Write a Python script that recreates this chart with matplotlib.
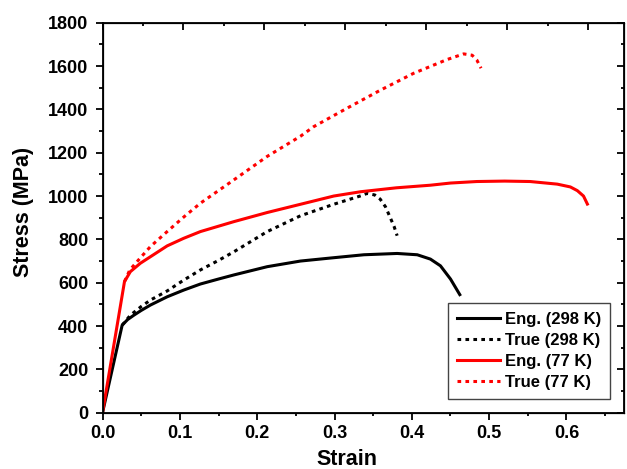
import matplotlib
matplotlib.use('Agg')
import matplotlib.pyplot as plt
from matplotlib.ticker import MultipleLocator, FormatStrFormatter

plt.rcParams['font.family'] = ['Liberation Sans', 'DejaVu Sans']
plt.rcParams['font.weight'] = 'bold'

# Engineering curve, 298 K
eng_298_strain = [0, 0.0254, 0.0325, 0.0405, 0.050, 0.062, 0.0836, 0.105, 0.1266, 0.150,
                  0.170, 0.213, 0.256, 0.295, 0.338, 0.381, 0.407, 0.424, 0.437,
                  0.450, 0.462]
eng_298_stress = [0, 404, 430, 450, 472, 497, 535, 566, 594, 617,
                  636, 674, 700, 714, 729, 735, 729, 709, 678,
                  617, 545]

# True curve, 298 K
true_298_strain = [0.0254, 0.036, 0.050, 0.062, 0.0836, 0.105, 0.1266, 0.150, 0.170,
                   0.213, 0.256, 0.299, 0.334, 0.342, 0.352, 0.359, 0.366, 0.372,
                   0.377, 0.381]
true_298_stress = [404, 450, 490, 520, 562, 612, 659, 703, 743,
                   836, 909, 962, 1001, 1012, 1005, 986, 950, 901,
                   860, 817]

# Engineering curve, 77 K
eng_77_strain = [0, 0.0284, 0.036, 0.049, 0.062, 0.0836, 0.105, 0.1266, 0.170, 0.213,
                 0.256, 0.299, 0.334, 0.380, 0.424, 0.450, 0.484, 0.520, 0.553,
                 0.588, 0.605, 0.614, 0.622, 0.627]
eng_77_stress = [0, 605, 651, 690, 720, 770, 805, 836, 882, 924,
                 962, 1000, 1020, 1038, 1050, 1060, 1067, 1069, 1067,
                 1055, 1042, 1025, 1000, 963]

# True curve, 77 K
true_77_strain = [0.0284, 0.0353, 0.049, 0.062, 0.0836, 0.105, 0.1266, 0.170, 0.213,
                  0.256, 0.273, 0.316, 0.359, 0.402, 0.4456, 0.467, 0.478, 0.484,
                  0.4895]
true_77_stress = [605, 659, 715, 767, 836, 903, 967, 1075, 1183,
                  1276, 1320, 1405, 1488, 1566, 1630, 1656, 1650, 1628,
                  1590]

fig = plt.figure(figsize=(6.27, 4.69), dpi=100)
ax = fig.add_axes([0.1635, 0.12, 0.8325, 0.8316])

dash = (0, (1.2, 1.4))
ax.plot(eng_298_strain, eng_298_stress, color='black', lw=2.2, label='Eng. (298 K)')
ax.plot(true_298_strain, true_298_stress, color='black', lw=2.2, ls=dash, label='True (298 K)')
ax.plot(eng_77_strain, eng_77_stress, color='#ff0000', lw=2.2, label='Eng. (77 K)')
ax.plot(true_77_strain, true_77_stress, color='#ff0000', lw=2.2, ls=dash, label='True (77 K)')

ax.set_xlim(0, 0.675)
ax.set_ylim(0, 1800)
ax.xaxis.set_major_locator(MultipleLocator(0.1))
ax.xaxis.set_minor_locator(MultipleLocator(0.05))
ax.yaxis.set_major_locator(MultipleLocator(200))
ax.yaxis.set_minor_locator(MultipleLocator(100))
ax.xaxis.set_major_formatter(FormatStrFormatter('%.1f'))

for s in ax.spines.values():
    s.set_linewidth(1.3)

ax.tick_params(which='both', direction='out', width=1.3, labelsize=13, pad=4)
ax.tick_params(which='major', length=5)
ax.tick_params(which='minor', length=2.5)
ax.tick_params(axis='y', which='major', length=5.2, pad=5)
ax.tick_params(axis='y', which='minor', length=2.6)

# right axis with inward ticks
ax_r = ax.twinx()
ax_r.set_ylim(ax.get_ylim())
ax_r.yaxis.set_major_locator(MultipleLocator(200))
ax_r.yaxis.set_minor_locator(MultipleLocator(100))
ax_r.tick_params(which='both', direction='in', width=1.3, labelright=False)
ax_r.tick_params(which='major', length=5)
ax_r.tick_params(which='minor', length=2.5)

# top axis with inward ticks (slightly different scale, as in the original)
ax_t = ax.twiny()
ax_t.set_xlim(0, 0.645)
ax_t.xaxis.set_major_locator(MultipleLocator(0.1))
ax_t.xaxis.set_minor_locator(MultipleLocator(0.05))
ax_t.tick_params(which='both', direction='in', width=1.3, labeltop=False)
ax_t.tick_params(which='major', length=5)
ax_t.tick_params(which='minor', length=2.5)

ax.set_xlabel('Strain', fontsize=15.5, fontweight='bold')
ax.set_ylabel('Stress (MPa)', fontsize=15.5, fontweight='bold')
ax.xaxis.set_label_coords(0.469, -0.092)
ax.yaxis.set_label_coords(-0.132, 0.516)

leg = ax.legend(loc='upper left', bbox_to_anchor=(0.661, 0.282), fontsize=12,
                frameon=True, fancybox=False, handlelength=2.6, handletextpad=0.3,
                labelspacing=0.36, borderpad=0.55, borderaxespad=0)
leg.get_frame().set_edgecolor('#444444')
leg.get_frame().set_linewidth(1.0)
leg.get_frame().set_alpha(1)

plt.savefig('out.png', dpi=100)
plt.close()
